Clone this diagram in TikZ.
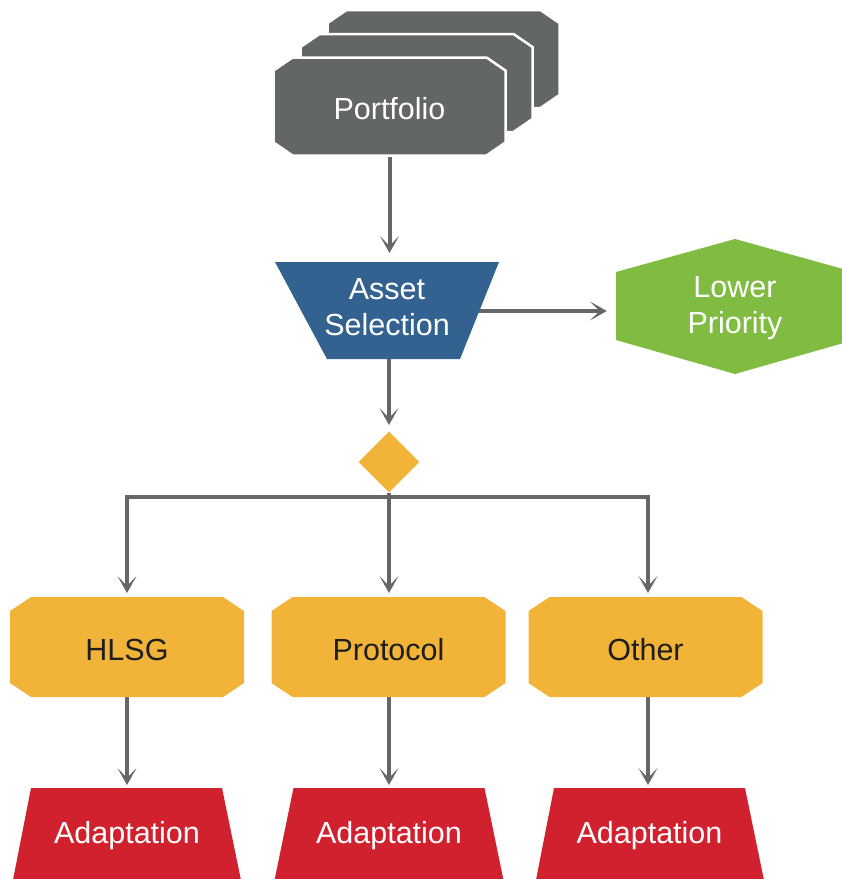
\documentclass[tikz,border=0pt]{standalone}
\usepackage{fontspec}
\setmainfont{Liberation Sans}
\usetikzlibrary{arrows.meta,shapes.geometric}
\definecolor{pgray}{HTML}{636667}
\definecolor{agray}{HTML}{666666}
\definecolor{pblue}{HTML}{336291}
\definecolor{pgreen}{HTML}{80BC41}
\definecolor{pgold}{HTML}{F1B439}
\definecolor{pred}{HTML}{D2212E}
\definecolor{ptext}{HTML}{1E1E1E}
\pgfdeclarelayer{bg}
\pgfsetlayers{bg,main}
% cx cy w h chamfer-x chamfer-y style
\newcommand\octo[7]{\fill[#7] ({#1-#3/2+#5},{#2-#4/2}) -- ({#1+#3/2-#5},{#2-#4/2}) -- ({#1+#3/2},{#2-#4/2+#6}) -- ({#1+#3/2},{#2+#4/2-#6}) -- ({#1+#3/2-#5},{#2+#4/2}) -- ({#1-#3/2+#5},{#2+#4/2}) -- ({#1-#3/2},{#2+#4/2-#6}) -- ({#1-#3/2},{#2-#4/2+#6}) -- cycle;}
\begin{document}
\begin{tikzpicture}[x=1pt,y=-1pt,
  lbl/.style={inner sep=0pt,align=center,font=\fontsize{30.5}{36}\selectfont},
  wlbl/.style={lbl,text=white},
  dlbl/.style={lbl,text=ptext},
  conn/.style={draw=agray,line width=4pt,line join=miter,
    -{Stealth[length=17pt,width=19pt,inset=10pt]}}]
\useasboundingbox (0,0) rectangle (842,879);
% Portfolio stack
\octo{443.5}{59}{232}{98}{19}{13}{pgray,draw=white,line width=2.5pt}
\octo{416.5}{83}{232}{98}{19}{13}{pgray,draw=white,line width=2.5pt}
\octo{389.5}{106.5}{232}{98}{19}{13}{pgray,draw=white,line width=2.5pt}
\node[wlbl,minimum width=232pt,minimum height=98pt] (port) at (389.5,108.5) {Portfolio};
% Asset Selection
\fill[pblue] (275,262) -- (499,262) -- (460,359) -- (327,359) -- cycle;
\node[wlbl,minimum width=224pt,minimum height=97pt] (as) at (387,307) {Asset\\Selection};
\coordinate (asR) at (474,311);
% Lower Priority
\fill[pgreen] (616,272) -- (735,239) -- (854,272) -- (854,340) -- (735,374) -- (616,340) -- cycle;
\node[wlbl,minimum width=238pt,minimum height=68pt] (lp) at (735,308) {Lower\\Priority};
% Decision diamond
\node[diamond,fill=pgold,inner sep=0pt,minimum width=61pt,minimum height=61pt] (dia) at (389,462) {};
\coordinate (bar) at (389,497);
% Middle boxes
\octo{127}{647}{234}{100}{21}{14}{pgold}
\octo{388.5}{647}{234}{100}{21}{14}{pgold}
\octo{645.5}{647}{234}{100}{21}{14}{pgold}
\node[dlbl,minimum width=234pt,minimum height=100pt] (hlsg) at (127,649.5) {HLSG};
\node[dlbl,minimum width=234pt,minimum height=100pt] (prot) at (388.5,649.5) {Protocol};
\node[dlbl,minimum width=234pt,minimum height=100pt] (other) at (645.5,649.5) {Other};
% Adaptation
\fill[pred] (31,788) -- (222,788) -- (242,885) -- (12,885) -- cycle;
\fill[pred] (293.5,788) -- (484.5,788) -- (504.5,885) -- (273.5,885) -- cycle;
\fill[pred] (554,788) -- (745,788) -- (765,885) -- (535,885) -- cycle;
\node[wlbl,minimum width=230pt,minimum height=91pt] (ad1) at (127,836) {Adaptation};
\node[wlbl,minimum width=230pt,minimum height=91pt] (ad2) at (389,836) {Adaptation};
\node[wlbl,minimum width=230pt,minimum height=91pt] (ad3) at (649.5,836) {Adaptation};
% Connectors
\begin{pgfonlayer}{bg}
\draw[conn] (port.south |- 0,155) -- (port.south |- 0,253);
\draw[conn,shorten >=9pt] (asR) -- (asR -| lp.west);
\draw[conn] (dia.north |- 0,359) -- (dia.north |- 0,425);
\draw[conn] (dia.south) -- (dia.south |- 0,593);
\draw[conn] (bar) -- (bar -| hlsg.north) -- (hlsg.north |- 0,593);
\draw[conn] (bar) -- (bar -| 648,0) -- (648,593);
\draw[conn] (hlsg.south |- 0,697) -- (hlsg.south |- 0,785);
\draw[conn] (dia.south |- 0,697) -- (dia.south |- 0,785);
\draw[conn] (648,697) -- (648,785);
\end{pgfonlayer}
\end{tikzpicture}
\end{document}
